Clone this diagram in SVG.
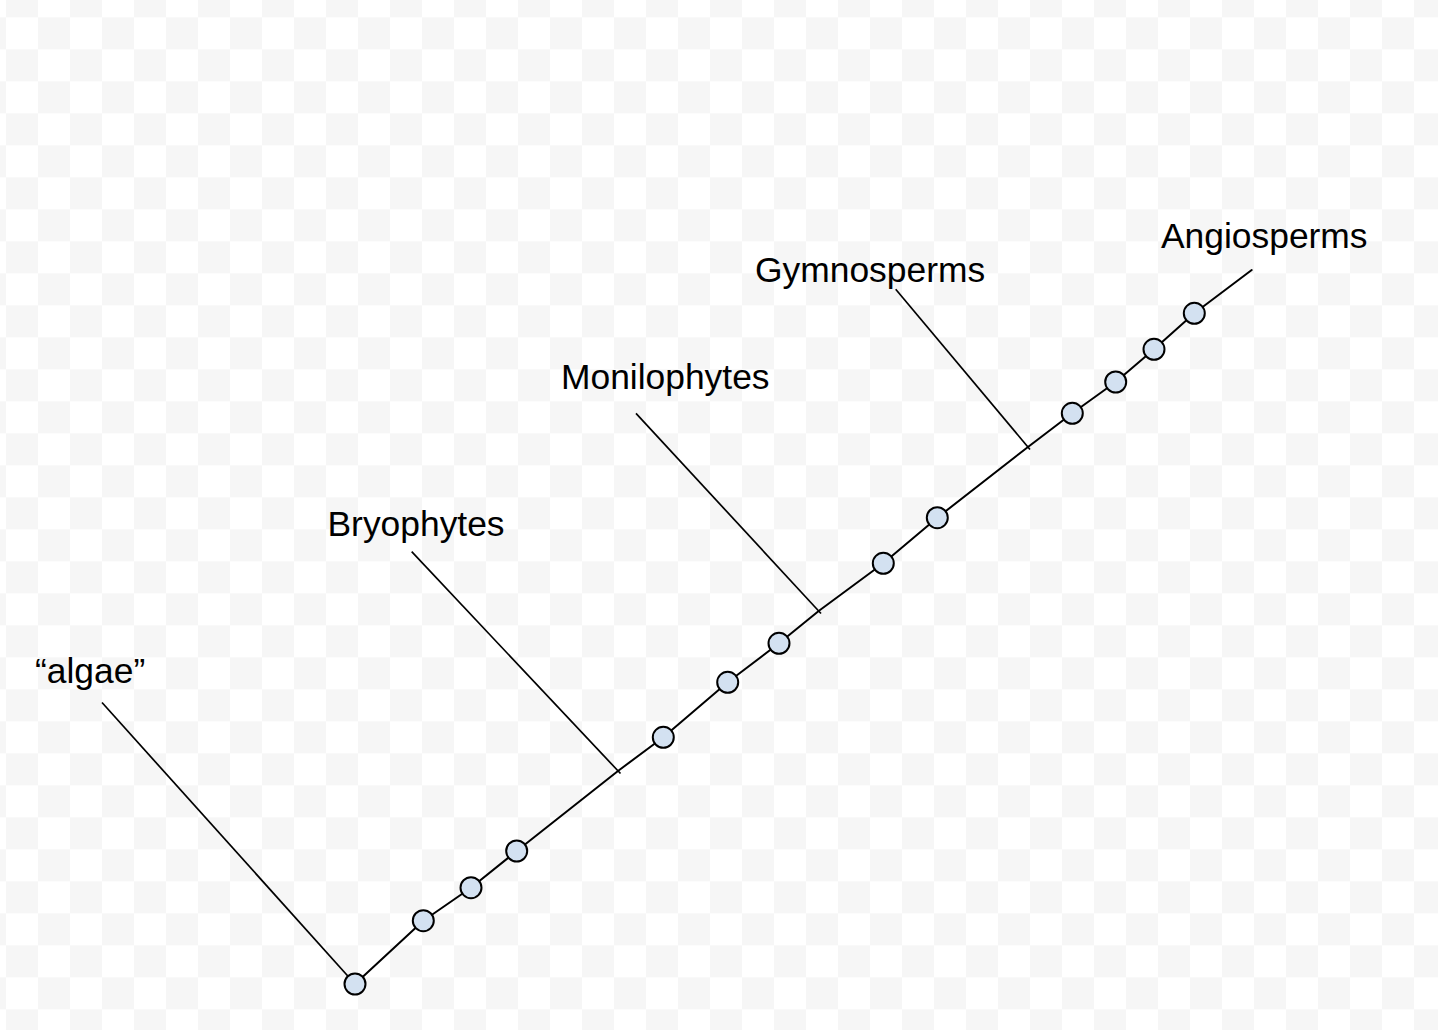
<svg xmlns="http://www.w3.org/2000/svg" width="1438" height="1030" viewBox="0 0 1438 1030">
  <defs>
    <pattern id="checker" patternUnits="userSpaceOnUse" x="6" y="17.33" width="64" height="64">
      <rect x="0" y="0" width="64" height="64" fill="#ffffff"/>
      <rect x="32" y="0" width="32" height="32" fill="#f6f6f6"/>
      <rect x="0" y="32" width="32" height="32" fill="#f6f6f6"/>
    </pattern>
    <style>
      .main { fill: none; stroke: #000; stroke-width: 2; stroke-linejoin: round; stroke-linecap: round; }
      .branch { fill: none; stroke: #000; stroke-width: 1.7; stroke-linecap: butt; }
      .dot { fill: #d3e1f1; stroke: #000; stroke-width: 2; }
      .label { font-family: "Liberation Sans", Arial, sans-serif; font-size: 35.4px; fill: #000; }
    </style>
  </defs>
  <rect x="0" y="0" width="1438" height="1030" fill="url(#checker)"/>

  <g id="connectors">
    <polyline class="main" points="355,984 423.3,920.7 471,887.7 516.7,851 618.3,770.7 663.3,737.3 727.7,682.3 779,643.3 819,610.7 883.3,563.3 937.3,517.7 1028.3,446.7 1072.3,413.3 1115.7,382 1154,349.3 1194.3,313.3 1251.7,270"/>
    <line class="branch" x1="102" y1="702.5" x2="355" y2="984"/>
    <line class="branch" x1="411.7" y1="551.7" x2="620.5" y2="773.5"/>
    <line class="branch" x1="636" y1="413.3" x2="821" y2="613.5"/>
    <line class="branch" x1="895.7" y1="289.3" x2="1030" y2="449.5"/>
  </g>

  <g id="label-algae"><text class="label" x="35" y="683.3">“algae”</text></g>
  <g id="label-bryophytes"><text class="label" x="327.5" y="536">Bryophytes</text></g>
  <g id="label-monilophytes"><text class="label" x="561" y="389.3">Monilophytes</text></g>
  <g id="label-gymnosperms"><text class="label" x="755" y="281.7">Gymnosperms</text></g>
  <g id="label-angiosperms"><text class="label" x="1161" y="248.3">Angiosperms</text></g>

  <g id="node-root"><circle class="dot" cx="355" cy="984" r="10.5"/></g>
  <g id="node-1"><circle class="dot" cx="423.3" cy="920.7" r="10.5"/></g>
  <g id="node-2"><circle class="dot" cx="471" cy="887.7" r="10.5"/></g>
  <g id="node-3"><circle class="dot" cx="516.7" cy="851" r="10.5"/></g>
  <g id="node-4"><circle class="dot" cx="663.3" cy="737.3" r="10.5"/></g>
  <g id="node-5"><circle class="dot" cx="727.7" cy="682.3" r="10.5"/></g>
  <g id="node-6"><circle class="dot" cx="779" cy="643.3" r="10.5"/></g>
  <g id="node-7"><circle class="dot" cx="883.3" cy="563.3" r="10.5"/></g>
  <g id="node-8"><circle class="dot" cx="937.3" cy="517.7" r="10.5"/></g>
  <g id="node-9"><circle class="dot" cx="1072.3" cy="413.3" r="10.5"/></g>
  <g id="node-10"><circle class="dot" cx="1115.7" cy="382" r="10.5"/></g>
  <g id="node-11"><circle class="dot" cx="1154" cy="349.3" r="10.5"/></g>
  <g id="node-12"><circle class="dot" cx="1194.3" cy="313.3" r="10.5"/></g>
</svg>
